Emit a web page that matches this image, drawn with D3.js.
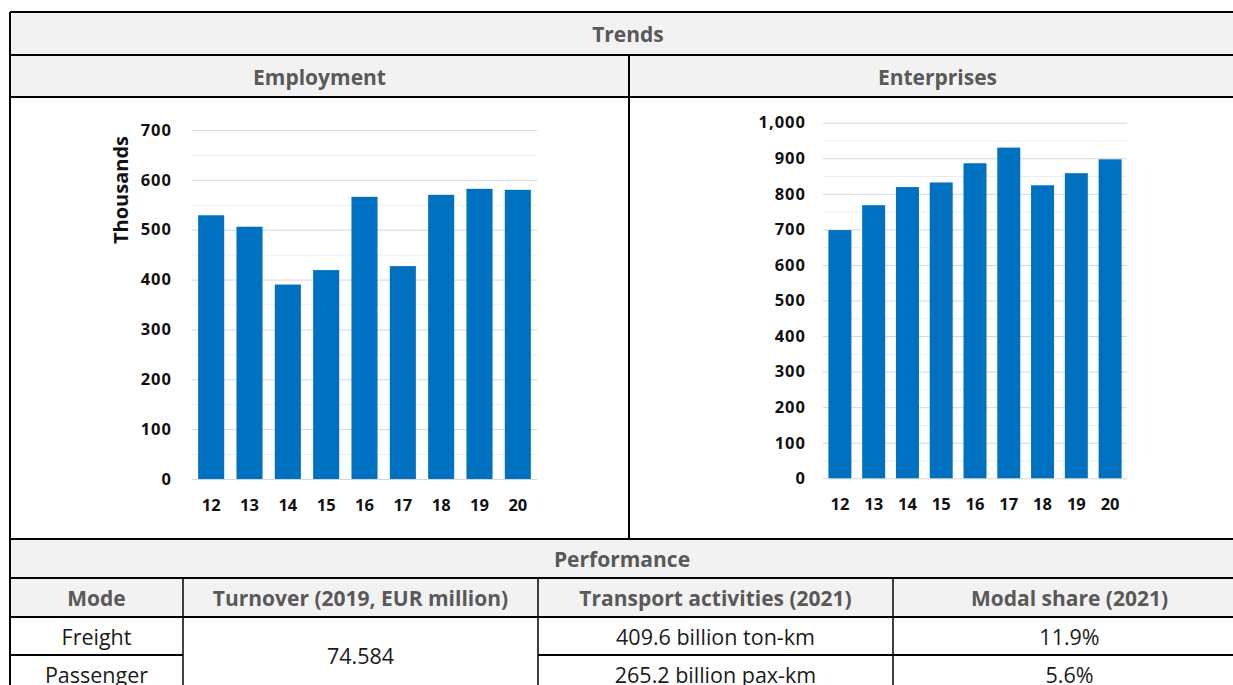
<!DOCTYPE html>
<html>
<head>
<meta charset="utf-8">
<script src="https://cdn.jsdelivr.net/npm/d3@7"></script>
<style>
  html, body { margin: 0; padding: 0; background: #fff; }
  svg { display: block; font-family: "Open Sans", sans-serif; }
  .hdr { font-weight: 700; fill: #595959; font-size: 21px; }
  .cell { fill: #1a1a1a; font-size: 21.5px; }
  .tick text { font-family: "Open Sans", sans-serif; font-weight: 700; font-size: 16.5px; fill: #111; }
  .yax .tick text { letter-spacing: 1px; }
</style>
</head>
<body>
<svg id="chart" width="1233" height="685"></svg>
<script>
// --- data ---
const years = ["12", "13", "14", "15", "16", "17", "18", "19", "20"];
const employment = [529, 506, 390, 419, 566, 427, 570, 582, 580]; // thousands
const enterprises = [698, 768, 819, 832, 886, 930, 824, 858, 897];
const empTicks = [0, 100, 200, 300, 400, 500, 600, 700];
const entTicks = [0, 100, 200, 300, 400, 500, 600, 700, 800, 900, 1000];

const perfHeaders = ["Mode", "Turnover (2019, EUR million)", "Transport activities (2021)", "Modal share (2021)"];
const modes = ["Freight", "Passenger"];
const turnover = "74.584";
const activities = ["409.6 billion ton-km", "265.2 billion pax-km"];
const modalShare = ["11.9%", "5.6%"];

const svg = d3.select("#chart");

// --- table frame ---
const L = 10, R = 1246, MID = 629;
const rows = [12, 55, 97, 539, 578, 617, 655, 694];
const cols = [L, 183, 538, 893, R];
const grey = "#f2f2f2";

function band(y0, y1) {
  svg.append("rect").attr("x", L).attr("y", y0).attr("width", R - L).attr("height", y1 - y0).attr("fill", grey);
}
band(rows[0], rows[1]);
band(rows[1], rows[2]);
band(rows[3], rows[4]);
band(rows[4], rows[5]);

function text(x, y, s, cls) {
  svg.append("text").attr("class", cls).attr("x", x).attr("y", y)
    .attr("text-anchor", "middle").attr("dominant-baseline", "central").text(s);
}
text((L + R) / 2, 34, "Trends", "hdr");
text((L + MID) / 2, 77, "Employment", "hdr");
text((MID + R) / 2, 77, "Enterprises", "hdr");
text(622, 559, "Performance", "hdr");
perfHeaders.forEach((h, i) => text((cols[i] + cols[i + 1]) / 2, 598, h, "hdr"));
modes.forEach((m, i) => {
  const yc = (rows[5 + i] + rows[6 + i]) / 2;
  text((cols[0] + cols[1]) / 2, yc, m, "cell");
  text((cols[2] + cols[3]) / 2, yc, activities[i], "cell");
  text((cols[3] + cols[4]) / 2, yc, modalShare[i], "cell");
});
text((cols[1] + cols[2]) / 2, (rows[5] + rows[7]) / 2, turnover, "cell");

const lines = svg.append("g").attr("stroke", "#000").attr("stroke-width", 2);
rows.forEach((y, i) => {
  if (i === 7) return;
  if (i === 6) {
    // merged turnover cell: no line through it
    lines.append("line").attr("x1", cols[0]).attr("x2", cols[1]).attr("y1", y).attr("y2", y);
    lines.append("line").attr("x1", cols[2]).attr("x2", R).attr("y1", y).attr("y2", y);
  } else {
    lines.append("line").attr("x1", L).attr("x2", R).attr("y1", y).attr("y2", y);
  }
});
lines.append("line").attr("x1", L).attr("x2", L).attr("y1", rows[0]).attr("y2", 700);
lines.append("line").attr("x1", MID).attr("x2", MID).attr("y1", rows[1]).attr("y2", rows[3]);
cols.slice(1, 4).forEach(x =>
  lines.append("line").attr("x1", x).attr("x2", x).attr("y1", rows[4]).attr("y2", 700).attr("stroke-width", 1.5));

// --- bar charts ---
function barChart(opts) {
  const { values, ticks, max, x0, x1, yTop, yBase, labelPad, fmt } = opts;
  const x = d3.scaleBand().domain(years).range([x0, x1]).paddingInner(0.32).paddingOuter(0.16);
  const y = d3.scaleLinear().domain([0, max]).range([yBase, yTop]);
  const g = svg.append("g");

  const minor = ticks.slice(0, -1).map(t => t + (ticks[1] - ticks[0]) / 2);
  const gMinor = g.append("g").attr("transform", `translate(${x0},0)`)
    .call(d3.axisLeft(y).tickValues(minor).tickSize(-(x1 - x0)).tickFormat(""));
  gMinor.select(".domain").remove();
  gMinor.selectAll("line").attr("stroke", "#ededed");

  const gy = g.append("g").attr("class", "yax").attr("transform", `translate(${x0},0)`)
    .call(d3.axisLeft(y).tickValues(ticks).tickSize(-(x1 - x0)).tickPadding(labelPad).tickFormat(fmt));
  gy.select(".domain").remove();
  gy.selectAll("line").attr("stroke", "#d6d6d6");

  g.append("g").selectAll("rect").data(values).join("rect")
    .attr("x", (d, i) => x(years[i]))
    .attr("width", x.bandwidth())
    .attr("y", d => y(d))
    .attr("height", d => y(0) - y(d))
    .attr("fill", "#0070c0");

  const gx = g.append("g").attr("transform", `translate(0,${yBase})`)
    .call(d3.axisBottom(x).tickSize(0).tickPadding(20));
  gx.select(".domain").remove();
  return g;
}

barChart({ values: employment, ticks: empTicks, max: 700, x0: 192, x1: 537,
  yTop: 130, yBase: 479, labelPad: 20, fmt: d3.format("d") });
barChart({ values: enterprises, ticks: entTicks, max: 1000, x0: 823, x1: 1127,
  yTop: 122.7, yBase: 478.3, labelPad: 17, fmt: d3.format(",") });

svg.append("text")
  .attr("transform", "translate(120,190) rotate(-90)")
  .attr("text-anchor", "middle").attr("dominant-baseline", "central")
  .attr("font-weight", 700).attr("font-size", 20).attr("fill", "#111")
  .text("Thousands");
</script>
</body>
</html>
